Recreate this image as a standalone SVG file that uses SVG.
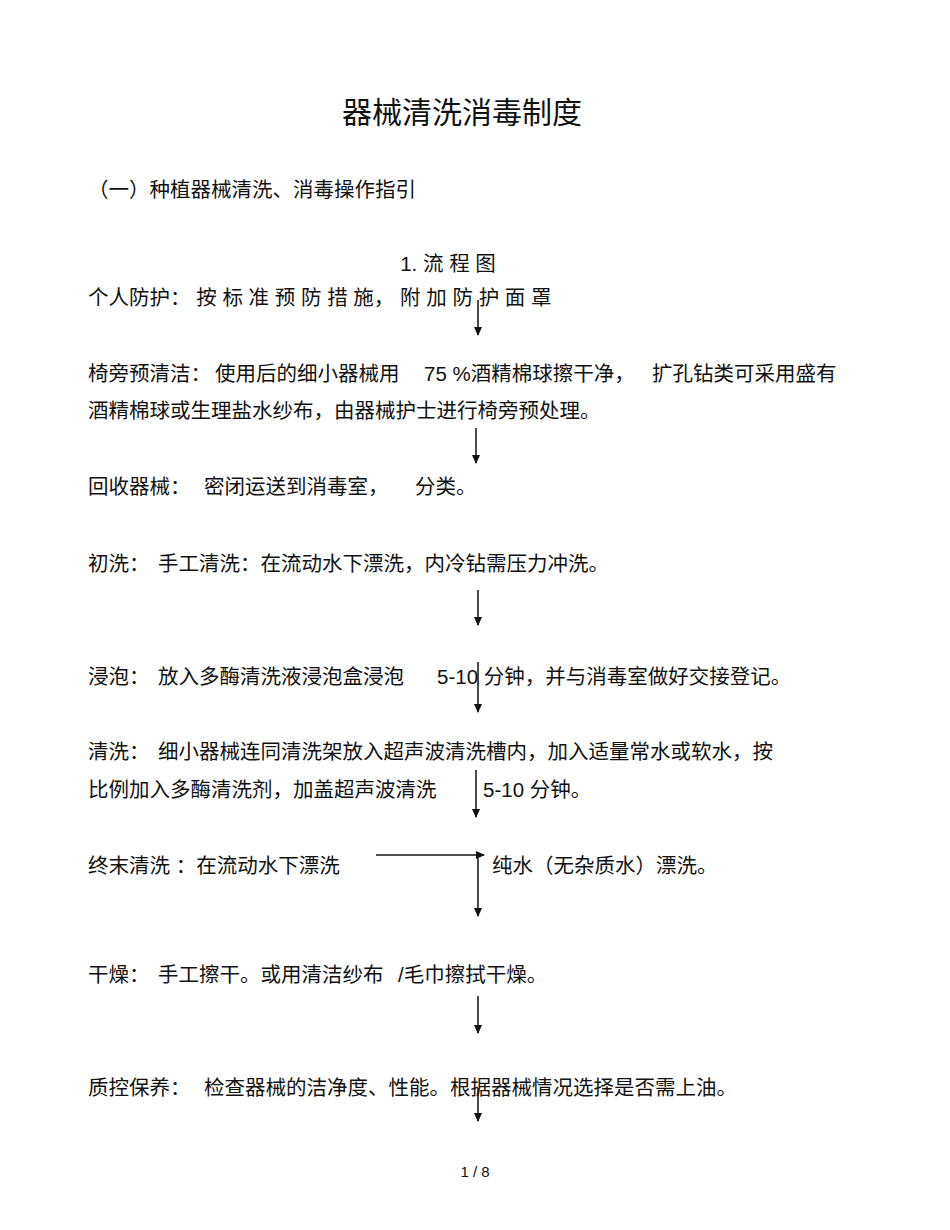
<svg xmlns="http://www.w3.org/2000/svg" width="950" height="1230" viewBox="0 0 950 1230">
<style>
text{font-family:"Liberation Sans","Noto Sans CJK SC",sans-serif;font-size:20.5px;fill:#111}
.t{font-size:30px}
.c{stroke:#111;stroke-width:1.5;fill:none}
</style>
<defs><marker id="a" markerWidth="10" markerHeight="10" refX="8" refY="4" orient="auto" markerUnits="userSpaceOnUse"><path d="M0,0 L9,4 L0,8 Z" fill="#111"/></marker></defs>
<rect width="950" height="1230" fill="#fff"/>
<g id="title"><text class="t" x="462" y="123" text-anchor="middle">器械清洗消毒制度</text></g>
<g id="sub"><text x="88" y="197">（一）种植器械清洗、消毒操作指引</text></g>
<g id="head"><text x="448" y="271" text-anchor="middle">1. 流 程 图</text></g>
<g id="n1"><text x="88" y="305">个人防护：  按 标 准 预 防 措 施， 附 加 防 护 面 罩</text></g>
<g id="n2"><text x="88" y="381">椅旁预清洁：</text><text x="215" y="381">使用后的细小器械用</text><text x="424" y="381">75 %酒精棉球擦干净，</text><text x="652" y="381">扩孔钻类可采用盛有</text><text x="88" y="418">酒精棉球或生理盐水纱布，由器械护士进行椅旁预处理。</text></g>
<g id="n3"><text x="88" y="494">回收器械：</text><text x="204" y="494">密闭运送到消毒室，</text><text x="415" y="494">分类。</text></g>
<g id="n4"><text x="88" y="571">初洗：</text><text x="158" y="571">手工清洗：在流动水下漂洗，内冷钻需压力冲洗。</text></g>
<g id="n5"><text x="88" y="684">浸泡：</text><text x="158" y="684">放入多酶清洗液浸泡盒浸泡</text><text x="437" y="684">5-10 分钟，并与消毒室做好交接登记。</text></g>
<g id="n6"><text x="88" y="759">清洗：</text><text x="158" y="759">细小器械连同清洗架放入超声波清洗槽内，加入适量常水或软水，按</text><text x="88" y="797">比例加入多酶清洗剂，加盖超声波清洗</text><text x="483" y="797">5-10 分钟。</text></g>
<g id="n7"><text x="88" y="873">终末清洗  ：在流动水下漂洗</text><text x="492" y="873">纯水（无杂质水）漂洗。</text></g>
<g id="n8"><text x="88" y="982">干燥：</text><text x="158" y="982">手工擦干。或用清洁纱布</text><text x="398" y="982">/毛巾擦拭干燥。</text></g>
<g id="n9"><text x="88" y="1095">质控保养：</text><text x="204" y="1095">检查器械的洁净度、性能。根据器械情况选择是否需上油。</text></g>
<g id="page"><text x="475" y="1177" text-anchor="middle" style="font-size:15px">1 / 8</text></g>
<g id="connectors">
<path class="c" d="M478,300 V335" marker-end="url(#a)"/>
<path class="c" d="M476,428 V463" marker-end="url(#a)"/>
<path class="c" d="M478,590 V625" marker-end="url(#a)"/>
<path class="c" d="M478,662 V712" marker-end="url(#a)"/>
<path class="c" d="M476,770 V817" marker-end="url(#a)"/>
<path class="c" d="M376,855 H484" marker-end="url(#a)"/>
<path class="c" d="M478,858 V916" marker-end="url(#a)"/>
<path class="c" d="M478,996 V1033" marker-end="url(#a)"/>
<path class="c" d="M478,1088 V1121" marker-end="url(#a)"/>
</g>
</svg>
